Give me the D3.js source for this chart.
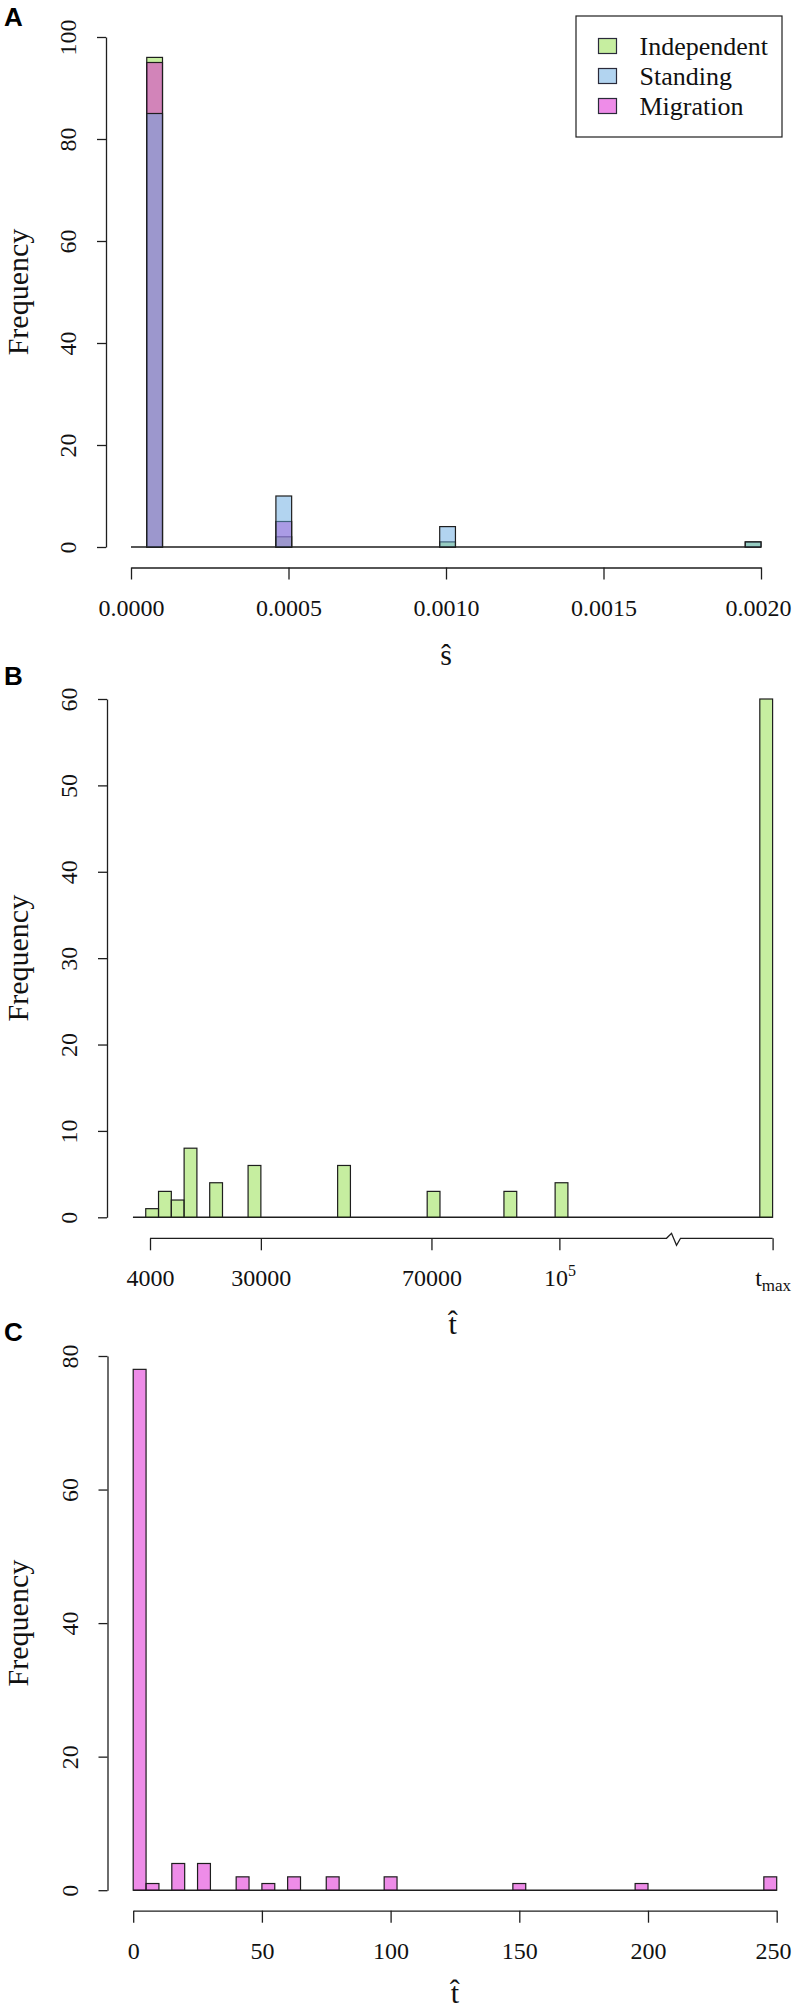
<!DOCTYPE html>
<html><head><meta charset="utf-8">
<script src="https://cdn.jsdelivr.net/npm/d3@7"></script>
<style>body{margin:0;background:#fff}</style>
</head><body>
<svg id="chart" width="793" height="2011"></svg>
<script>
// ---------------- data ----------------
// Panel A : estimated selection coefficient s-hat
const seriesNames = ["Independent", "Standing", "Migration"];
const sBinStart = [0.00005, 0.00046, 0.00098, 0.00195];
const sBinWidth = 0.00005;
const sIndependent = [96, 2, 1, 1];
const sStanding = [85, 10, 4, 1];
const sMigration = [95, 5, 0, 0];
const sTicks = [0, 0.0005, 0.001, 0.0015, 0.002];
const sTickLabels = ["0.0000", "0.0005", "0.0010", "0.0015", "0.0020"];
const freqTicksA = [0, 20, 40, 60, 80, 100];

// Panel B : estimated time t-hat, Independent (axis broken before t_max)
const tBinStartB = [3000, 6000, 9000, 12000, 18000, 27000, 48000, 69000, 87000, 99000, 147000];
const tBinWidthB = 3000;
const tCountsB = [1, 3, 2, 8, 4, 6, 6, 3, 3, 4, 60];
const tTicksB = [4000, 30000, 70000, 100000, 150000];
const tTickLabelsB = ["4000", "30000", "70000", "10^5", "t_max"];
const tBreakB = 127000;
const tDomainB = [0, 150000];
const freqTicksB = [0, 10, 20, 30, 40, 50, 60];

// Panel C : estimated time t-hat, Migration
const tBinStartC = [0, 5, 15, 25, 40, 50, 60, 75, 97.5, 147.5, 195, 245];
const tBinWidthC = 5;
const tCountsC = [78, 1, 4, 4, 2, 1, 2, 2, 2, 1, 1, 2];
const tTicksC = [0, 50, 100, 150, 200, 250];
const freqTicksC = [0, 20, 40, 60, 80];

// ---------------- style ----------------
const SERIF = "'Liberation Serif','Times New Roman',serif";
const SANS = "'Liberation Sans',Arial,sans-serif";
const INK = "#1e1e1e";
const baseColor = { Independent: "#8ddd41", Standing: "#65a9e1", Migration: "#dd19d1" };
const legendColor = { Independent: "#c6eea0", Standing: "#b2d4f0", Migration: "#ee8ce8" };
const ALPHA = 0.5;
const PAGE_W = 793;

const svg = d3.select("#chart");
svg.append("rect").attr("width", 793).attr("height", 2011).attr("fill", "#fff");

function drawYAxis(y, ticks, ax) {
  const g = svg.append("g").attr("transform", `translate(${ax},0)`)
    .call(d3.axisLeft(y).tickValues(ticks).tickSize(9).tickSizeOuter(0).tickFormat(d3.format("d")));
  g.attr("font-size", null).attr("font-family", null);
  g.select(".domain").attr("stroke", INK).attr("stroke-width", 1.3);
  g.selectAll(".tick line").attr("stroke", INK).attr("stroke-width", 1.3);
  g.selectAll(".tick text").attr("x", null).attr("dy", null)
    .attr("transform", "translate(-30,0) rotate(-90)")
    .attr("text-anchor", "middle").style("font-family", SERIF).style("font-size", "24px").attr("fill", "#111");
  return g;
}
function drawXAxis(x, ticks, fmt, ay) {
  const g = svg.append("g").attr("transform", `translate(0,${ay})`)
    .call(d3.axisBottom(x).tickValues(ticks).tickSize(12).tickSizeOuter(0).tickFormat(fmt));
  g.attr("font-size", null).attr("font-family", null);
  g.select(".domain").attr("stroke", INK).attr("stroke-width", 1.3);
  g.selectAll(".tick line").attr("stroke", INK).attr("stroke-width", 1.3);
  g.selectAll(".tick text").attr("y", 48).attr("dy", null)
    .style("font-family", SERIF).style("font-size", "24px").attr("fill", "#111");
  return g;
}
// keep tick labels inside the page (the last label sits at the right edge)
function clampLabels(g, x, ticks) {
  g.selectAll(".tick text").each(function (d, i) {
    const w = this.getComputedTextLength();
    const right = x(ticks[i]) + w / 2;
    if (right > PAGE_W - 2) d3.select(this).attr("x", (PAGE_W - 2) - right);
  });
}
function drawBars(x, y, starts, width, counts, color) {
  const data = starts.map((s, i) => ({ x0: s, x1: s + width, n: counts[i] })).filter(d => d.n > 0);
  svg.append("g").selectAll("rect").data(data).join("rect")
    .attr("x", d => x(d.x0)).attr("width", d => x(d.x1) - x(d.x0))
    .attr("y", d => y(d.n)).attr("height", d => y(0) - y(d.n))
    .attr("fill", color).attr("fill-opacity", ALPHA)
    .attr("stroke", INK).attr("stroke-width", 1.2);
}
function baseline(x, y, a, b) {
  svg.append("line").attr("x1", x(a)).attr("x2", x(b)).attr("y1", y(0)).attr("y2", y(0))
    .attr("stroke", INK).attr("stroke-width", 1.4);
}
function yLabel(cy) {
  svg.append("text").attr("transform", `translate(28,${cy}) rotate(-90)`)
    .attr("text-anchor", "middle").style("font-family", SERIF).style("font-size", "30px").attr("fill", "#111")
    .text("Frequency");
}
function xLabel(cx, by, txt) {
  svg.append("text").attr("x", cx).attr("y", by).attr("text-anchor", "middle")
    .style("font-family", SERIF).style("font-size", "30px").attr("fill", "#111").text(txt);
}
function panelLetter(txt, by) {
  svg.append("text").attr("x", 4).attr("y", by).style("font-family", SANS).attr("font-weight", "bold")
    .style("font-size", "26px").attr("fill", "#000").text(txt);
}

// ---------------- Panel A ----------------
{
  const x = d3.scaleLinear().domain([0, 0.002]).range([131, 761]);
  const y = d3.scaleLinear().domain([0, 100]).range([547, 37]);
  panelLetter("A", 26);
  baseline(x, y, 0, 0.002);
  // drawing order: Independent, Migration, Standing (semi-transparent overlays)
  drawBars(x, y, sBinStart, sBinWidth, sIndependent, baseColor.Independent);
  drawBars(x, y, sBinStart, sBinWidth, sMigration, baseColor.Migration);
  drawBars(x, y, sBinStart, sBinWidth, sStanding, baseColor.Standing);
  drawYAxis(y, freqTicksA, 106);
  const gx = drawXAxis(x, sTicks, (d, i) => sTickLabels[i], 567.5);
  clampLabels(gx, x, sTicks);
  yLabel((y(0) + y(100)) / 2);
  xLabel((x(0) + x(0.002)) / 2, 664.5, "\u015D");

  // legend
  const lg = svg.append("g");
  lg.append("rect").attr("x", 576).attr("y", 16).attr("width", 206).attr("height", 121)
    .attr("fill", "#fff").attr("stroke", INK).attr("stroke-width", 1.2);
  seriesNames.forEach((name, i) => {
    lg.append("rect").attr("x", 598.5).attr("y", 38.5 + i * 30).attr("width", 18).attr("height", 15)
      .attr("fill", legendColor[name]).attr("stroke", "#2a2a3a").attr("stroke-width", 1.2);
    lg.append("text").attr("x", 639.5).attr("y", 55 + i * 30).style("font-family", SERIF)
      .style("font-size", "26px").attr("fill", "#111").text(name);
  });
}

// ---------------- Panel B ----------------
{
  const x = d3.scaleLinear().domain([4000, 150000]).range([150, 772.6]);
  const y = d3.scaleLinear().domain([0, 60]).range([1217.3, 699]);
  panelLetter("B", 685);
  baseline(x, y, tDomainB[0], tDomainB[1]);
  drawBars(x, y, tBinStartB, tBinWidthB, tCountsB, baseColor.Independent);
  drawYAxis(y, freqTicksB, 107);
  const ay = 1238.3;
  const g = drawXAxis(x, tTicksB, (d, i) => tTickLabelsB[i], ay);
  g.select(".domain").remove();
  const bx = x(tBreakB);
  const path = d3.path();
  path.moveTo(x(tTicksB[0]), 0);
  path.lineTo(bx - 8, 0);
  path.lineTo(bx - 3, -5);
  path.lineTo(bx + 2, 7);
  path.lineTo(bx + 6, 0);
  path.lineTo(x(tTicksB[tTicksB.length - 1]), 0);
  g.append("path").attr("d", path.toString()).attr("fill", "none").attr("stroke", INK).attr("stroke-width", 1.3);
  g.selectAll(".tick text").each(function (d, i) {
    const lab = tTickLabelsB[i];
    const t = d3.select(this);
    if (lab === "10^5") {
      t.text("10");
      t.append("tspan").attr("dy", -10).style("font-size", "16px").text("5");
    } else if (lab === "t_max") {
      t.text("t");
      t.append("tspan").attr("dy", 5).style("font-size", "17px").text("max");
    }
  });
  clampLabels(g, x, tTicksB);
  yLabel((y(0) + y(60)) / 2);
  xLabel((x(0) + x(150000)) / 2, 1334, "t\u0302");
}

// ---------------- Panel C ----------------
{
  const x = d3.scaleLinear().domain([0, 250]).range([133.2, 776.7]);
  const y = d3.scaleLinear().domain([0, 80]).range([1890.2, 1356]);
  panelLetter("C", 1341);
  baseline(x, y, 0, 250);
  drawBars(x, y, tBinStartC, tBinWidthC, tCountsC, baseColor.Migration);
  drawYAxis(y, freqTicksC, 107.5);
  const gx = drawXAxis(x, tTicksC, d3.format("d"), 1910.7);
  clampLabels(gx, x, tTicksC);
  yLabel((y(0) + y(80)) / 2);
  xLabel((x(0) + x(250)) / 2, 2003, "t\u0302");
}
</script>
</body></html>
